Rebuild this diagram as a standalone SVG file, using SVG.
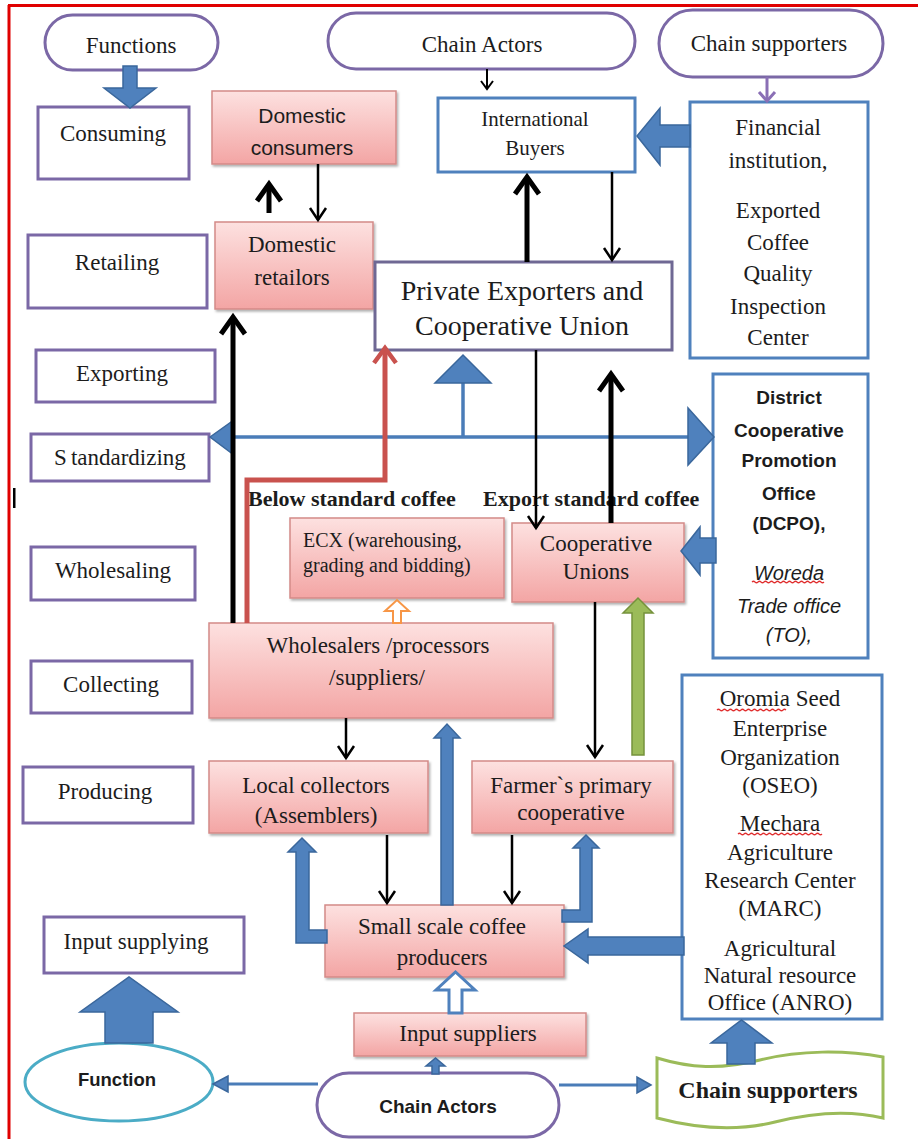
<svg xmlns="http://www.w3.org/2000/svg" width="918" height="1139" viewBox="0 0 918 1139">
<defs>
<style>
.fn{fill:#fff;stroke:#7b68a6;stroke-width:3}
.pk{fill:url(#pink);stroke:#d48a88;stroke-width:1.5;filter:url(#sh)}
.bl{fill:#fff;stroke:#4f81bd;stroke-width:3}
.t{font-family:"Liberation Serif","Times New Roman",serif;font-size:23px;fill:#1c1c1c;text-anchor:middle;dominant-baseline:central}
.sa{font-family:"Liberation Sans",Arial,sans-serif}
.b{font-weight:bold}
.blk{fill:#4f81bd;stroke:#3a679c;stroke-width:1.5}
.kt{stroke:#000;fill:none;stroke-width:2.5}
.kk{stroke:#000;fill:none;stroke-width:5}
.bln{stroke:#4a7cb8;stroke-width:3.5;fill:none}
.wv{stroke:#e03030;stroke-width:1.2;fill:none}
</style>
<linearGradient id="pink" x1="0" y1="0" x2="0" y2="1">
<stop offset="0" stop-color="#fde1e0"/>
<stop offset="1" stop-color="#f3a5a4"/>
</linearGradient>
<filter id="sh" x="-10%" y="-10%" width="120%" height="130%">
<feDropShadow dx="1.5" dy="2" stdDeviation="1.2" flood-color="#000" flood-opacity="0.3"/>
</filter>
<marker id="ahThin" markerUnits="userSpaceOnUse" markerWidth="16" markerHeight="20" viewBox="0 0 16 20" refX="14" refY="10" orient="auto" overflow="visible">
<path d="M2,2 L14,10 L2,18" fill="none" stroke="#000" stroke-width="2.5"/>
</marker>
<marker id="ahThick" markerUnits="userSpaceOnUse" markerWidth="24" markerHeight="28" viewBox="0 0 24 28" refX="20" refY="14" orient="auto" overflow="visible">
<path d="M3,2 L20,14 L3,26" fill="none" stroke="#000" stroke-width="5"/>
</marker>
<marker id="ahSmall" markerUnits="userSpaceOnUse" markerWidth="12" markerHeight="14" viewBox="0 0 12 14" refX="9" refY="7" orient="auto" overflow="visible">
<path d="M1,1 L9,7 L1,13" fill="none" stroke="#000" stroke-width="2"/>
</marker>
<marker id="ahRed" markerUnits="userSpaceOnUse" markerWidth="24" markerHeight="26" viewBox="0 0 24 26" refX="18" refY="13" orient="auto" overflow="visible">
<path d="M3,2 L18,13 L3,24" fill="none" stroke="#c9524e" stroke-width="4.5"/>
</marker>
</defs>

<rect x="0" y="0" width="918" height="1139" fill="#fff"/>
<path d="M8,5.5 H918 M9,5 V1139" stroke="#e00000" stroke-width="3" fill="none"/>
<rect x="13" y="488" width="2.5" height="20" fill="#000"/>

<!-- Function column -->
<g id="functions"><rect class="fn" x="45" y="15" width="173" height="55" rx="27.5"/><text class="t" x="131" y="45">Functions</text></g>
<g id="consuming"><rect class="fn" x="38" y="107" width="151" height="72"/><text class="t" x="113" y="133">Consuming</text></g>
<g id="retailing"><rect class="fn" x="28" y="235" width="179" height="73"/><text class="t" x="117" y="262">Retailing</text></g>
<g id="exporting"><rect class="fn" x="36" y="350" width="179" height="52"/><text class="t" x="122" y="373">Exporting</text></g>
<g id="standardizing"><rect class="fn" x="31" y="434" width="178" height="47"/><text class="t" x="120" y="457">S<tspan dx="4">tandardizing</tspan></text></g>
<g id="wholesaling"><rect class="fn" x="31" y="547" width="164" height="53"/><text class="t" x="113" y="570">Wholesaling</text></g>
<g id="collecting"><rect class="fn" x="31" y="661" width="161" height="52"/><text class="t" x="111" y="684">Collecting</text></g>
<g id="producing"><rect class="fn" x="23" y="767" width="170" height="56"/><text class="t" x="105" y="791">Producing</text></g>
<g id="input-supplying"><rect class="fn" x="44" y="917" width="200" height="56"/><text class="t" x="136" y="941">Input supplying</text></g>

<!-- Actors -->
<g id="chain-actors-top"><rect class="fn" x="328" y="13" width="307" height="56" rx="28"/><text class="t" x="482" y="44">Chain Actors</text></g>
<g id="domestic-consumers"><rect class="pk" x="212" y="91" width="184" height="73"/><text class="t sa" style="font-size:21px" x="302" y="115">Domestic</text><text class="t sa" style="font-size:21px" x="302" y="147">consumers</text></g>
<g id="domestic-retailors"><rect class="pk" x="215" y="222" width="158" height="87"/><text class="t" x="292" y="244">Domestic</text><text class="t" x="292" y="277">retailors</text></g>
<g id="international-buyers"><rect class="bl" x="438" y="98" width="197" height="74"/><text class="t" style="font-size:21px" x="535" y="119">International</text><text class="t" style="font-size:21px" x="535" y="148">Buyers</text></g>
<g id="private-exporters"><rect x="375" y="262" width="297" height="88" fill="#fff" stroke="#6f6894" stroke-width="3"/><text class="t" style="font-size:28px" x="522" y="290">Private Exporters and</text><text class="t" style="font-size:28px" x="522" y="325">Cooperative Union</text></g>
<g id="labels"><text class="t b" style="font-size:22px;text-anchor:start" x="248" y="498">Below standard coffee</text><text class="t b" style="font-size:22px;text-anchor:start" x="483" y="498">Export standard coffee</text></g>
<g id="ecx"><rect class="pk" x="290" y="518" width="214" height="80"/><text class="t" style="font-size:20px;text-anchor:start" x="303" y="540">ECX (warehousing,</text><text class="t" style="font-size:20px;text-anchor:start" x="303" y="565">grading and bidding)</text></g>
<g id="cooperative-unions"><rect class="pk" x="512" y="523" width="172" height="79"/><text class="t" x="596" y="543">Cooperative</text><text class="t" x="596" y="571">Unions</text></g>
<g id="wholesalers"><rect class="pk" x="209" y="623" width="344" height="95"/><text class="t" x="378" y="645">Wholesalers /processors</text><text class="t" x="377" y="677">/suppliers/</text></g>
<g id="local-collectors"><rect class="pk" x="209" y="761" width="219" height="72"/><text class="t" x="316" y="785">Local collectors</text><text class="t" x="316" y="815">(Assemblers)</text></g>
<g id="farmers-primary"><rect class="pk" x="472" y="761" width="201" height="72"/><text class="t" x="571" y="785">Farmer`s primary</text><text class="t" x="571" y="812">cooperative</text></g>
<g id="small-scale-producers"><rect class="pk" x="325" y="905" width="239" height="72"/><text class="t" x="442" y="926">Small scale coffee</text><text class="t" x="442" y="957">producers</text></g>
<g id="input-suppliers"><rect class="pk" x="354" y="1013" width="232" height="43"/><text class="t" x="468" y="1033">Input suppliers</text></g>

<!-- Supporters -->
<g id="chain-supporters-top"><rect class="fn" x="659" y="10" width="224" height="67" rx="33.5"/><text class="t" x="769" y="43">Chain supporters</text></g>
<g id="financial-institution"><rect class="bl" x="690" y="102" width="178" height="256"/>
<text class="t" x="778" y="127">Financial</text><text class="t" x="778" y="160">institution,</text><text class="t" x="778" y="210">Exported</text><text class="t" x="778" y="242">Coffee</text><text class="t" x="778" y="273">Quality</text><text class="t" x="778" y="306">Inspection</text><text class="t" x="778" y="337">Center</text></g>
<g id="dcpo"><rect class="bl" x="713" y="374" width="155" height="284"/>
<text class="t sa b" style="font-size:19px" x="789" y="397">District</text><text class="t sa b" style="font-size:19px" x="789" y="430">Cooperative</text><text class="t sa b" style="font-size:19px" x="789" y="460">Promotion</text><text class="t sa b" style="font-size:19px" x="789" y="493">Office</text><text class="t sa b" style="font-size:19px" x="789" y="523">(DCPO),</text>
<text class="t sa" style="font-size:20px;font-style:italic" x="789" y="573">Woreda</text><text class="t sa" style="font-size:20px;font-style:italic" x="789" y="606">Trade office</text><text class="t sa" style="font-size:20px;font-style:italic" x="789" y="635">(TO),</text>
<path class="wv" d="M752,582 q1.5,-1.5 3,0 t3,0 t3,0 t3,0 t3,0 t3,0 t3,0 t3,0 t3,0 t3,0 t3,0 t3,0 t3,0 t3,0 t3,0 t3,0 t3,0 t3,0 t3,0 t3,0 t3,0 t3,0 t3,0 t3,0"/></g>
<g id="oseo"><rect class="bl" x="682" y="675" width="200" height="344"/>
<text class="t" x="780" y="698">Oromia Seed</text><text class="t" x="780" y="728">Enterprise</text><text class="t" x="780" y="757">Organization</text><text class="t" x="780" y="785">(OSEO)</text>
<text class="t" x="780" y="823">Mechara</text><text class="t" x="780" y="852">Agriculture</text><text class="t" x="780" y="880">Research Center</text><text class="t" x="780" y="908">(MARC)</text>
<text class="t" x="780" y="948">Agricultural</text><text class="t" x="780" y="975">Natural resource</text><text class="t" x="780" y="1002">Office (ANRO)</text>
<path class="wv" d="M717,710 q1.5,-1.5 3,0 t3,0 t3,0 t3,0 t3,0 t3,0 t3,0 t3,0 t3,0 t3,0 t3,0 t3,0 t3,0 t3,0 t3,0 t3,0 t3,0 t3,0 t3,0 t3,0 t3,0 t3,0 t3,0"/>
<path class="wv" d="M738,834 q1.5,-1.5 3,0 t3,0 t3,0 t3,0 t3,0 t3,0 t3,0 t3,0 t3,0 t3,0 t3,0 t3,0 t3,0 t3,0 t3,0 t3,0 t3,0 t3,0 t3,0 t3,0 t3,0 t3,0 t3,0 t3,0 t3,0 t3,0 t3,0 t3,0"/></g>

<!-- Legend -->
<g id="function-legend"><ellipse cx="119" cy="1082" rx="94" ry="39" fill="#fff" stroke="#4bacc6" stroke-width="3"/><text class="t sa b" style="font-size:18.5px" x="117" y="1079">Function</text></g>
<g id="chain-actors-legend"><rect class="fn" x="317" y="1073" width="242" height="64" rx="32"/><text class="t sa b" style="font-size:19px" x="438" y="1106">Chain Actors</text></g>
<g id="chain-supporters-legend"><path d="M657,1058 C690,1068 720,1070 760,1060 C800,1050 845,1050 883,1057 L883,1118 C850,1110 815,1112 775,1122 C735,1132 695,1128 657,1118 Z" fill="#fff" stroke="#9bbb59" stroke-width="3"/><text class="t b" style="font-size:24px" x="768" y="1090">Chain supporters</text></g>

<!-- Connectors -->
<g id="connectors">
<polygon class="blk" points="123,66 137,66 137,88 156,88 130,108 104,88 123,88"/>
<polygon class="blk" points="690,125 660,125 660,108 637,136 660,165 660,147 690,147"/>
<line x1="767" y1="77" x2="767" y2="100" stroke="#8a6fb5" stroke-width="3"/>
<path d="M759,92 L767,101 L775,92" fill="none" stroke="#8a6fb5" stroke-width="3"/>
<line class="kt" x1="487" y1="69" x2="487" y2="89" marker-end="url(#ahSmall)" style="stroke-width:2"/>
<line class="kk" x1="269" y1="213" x2="269" y2="184" marker-end="url(#ahThick)"/>
<line class="kt" x1="318" y1="164" x2="318" y2="220" marker-end="url(#ahThin)"/>
<line class="kk" x1="527" y1="262" x2="527" y2="177" marker-end="url(#ahThick)"/>
<line class="kt" x1="612" y1="172" x2="612" y2="260" marker-end="url(#ahThin)"/>
<line class="bln" x1="230" y1="437" x2="692" y2="437"/>
<polygon class="blk" points="210,437 234,420 234,455"/>
<polygon class="blk" points="714,437 688,408 688,465"/>
<line class="bln" x1="463" y1="437" x2="463" y2="382"/>
<polygon class="blk" points="435,383 491,383 463,355"/>
<line class="kk" x1="233" y1="623" x2="233" y2="317" marker-end="url(#ahThick)"/>
<path d="M247,623 V480 H385 V348" fill="none" stroke="#c9524e" stroke-width="5" marker-end="url(#ahRed)"/>
<line class="kt" x1="536" y1="350" x2="536" y2="528" marker-end="url(#ahThin)"/>
<line class="kk" x1="611" y1="523" x2="611" y2="374" marker-end="url(#ahThick)"/>
<polygon class="blk" points="716,538 700,538 700,527 681,551 700,575 700,563 716,563"/>
<polygon points="393,623 401,623 401,611 409,611 397,600 385,611 393,611" fill="#fff" stroke="#f79646" stroke-width="2"/>
<polygon points="632,755 644,755 644,613 653,613 638,598 623,613 632,613" fill="#9bbb59" stroke="#76923c" stroke-width="1.5"/>
<line class="kt" x1="595" y1="602" x2="595" y2="757" marker-end="url(#ahThin)"/>
<line class="kt" x1="346" y1="718" x2="346" y2="758" marker-end="url(#ahThin)"/>
<polygon class="blk" points="441,905 453,905 453,738 460,738 447,724 434,738 441,738"/>
<line class="kt" x1="387" y1="835" x2="387" y2="903" marker-end="url(#ahThin)"/>
<line class="kt" x1="512" y1="835" x2="512" y2="903" marker-end="url(#ahThin)"/>
<polygon class="blk" points="327,930 309,930 309,852 316,852 302,838 288,852 296,852 296,943 327,943"/>
<polygon class="blk" points="562,910 580,910 580,848 573,848 586,835 599,848 592,848 592,922 562,922"/>
<polygon class="blk" points="684,937 588,937 588,929 564,946 588,963 588,955 684,955"/>
<polygon points="449,1013 462,1013 462,990 475,990 455.5,972 436,990 449,990" fill="#fff" stroke="#4f81bd" stroke-width="3"/>
<polygon class="blk" points="432,1074 439,1074 439,1066 445,1066 435.5,1058 426,1066 432,1066"/>
<polygon class="blk" points="727,1064 755,1064 755,1043 772,1043 741.5,1020 711,1043 727,1043"/>
<polygon class="blk" points="105,1043 153,1043 153,1012 178,1012 129,977 80,1012 105,1012"/>
<line class="bln" x1="226" y1="1084" x2="318" y2="1084" style="stroke-width:3"/>
<polygon class="blk" points="213,1084 228,1076 228,1092"/>
<line class="bln" x1="559" y1="1085" x2="638" y2="1085" style="stroke-width:3"/>
<polygon class="blk" points="651,1085 637,1077 637,1093"/>
</g>
</svg>
